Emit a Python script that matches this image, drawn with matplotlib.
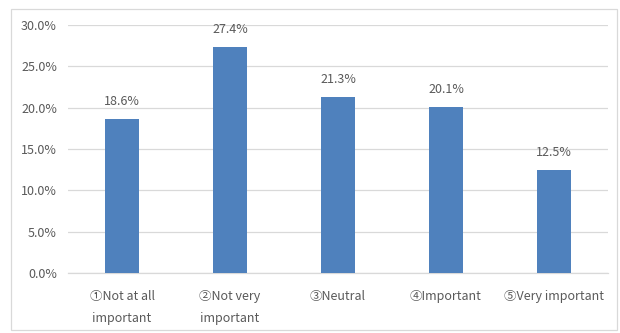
import matplotlib.pyplot as plt
from matplotlib.patches import Rectangle
from matplotlib.ticker import FuncFormatter

plt.rcParams['font.family'] = ['Noto Sans CJK KR', 'DejaVu Sans']

categories = ['①Not at all\nimportant', '②Not very\nimportant', '③Neutral',
              '④Important', '⑤Very important']
shares = [18.6, 27.4, 21.3, 20.1, 12.5]
y_ticks = [0, 5, 10, 15, 20, 25, 30]

bar_color = '#4F81BD'
text_color = '#595959'
grid_color = '#D9D9D9'

fig = plt.figure(figsize=(6.2, 3.33), dpi=100)
ax = fig.add_axes([0.1097, 0.1802, 0.8709, 0.7447])

x = list(range(len(categories)))
bars = ax.bar(x, shares, width=0.31, color=bar_color, zorder=3)
for b, v in zip(bars, shares):
    ax.text(b.get_x() + b.get_width() / 2, v + 1.3, f'{v:.1f}%',
            ha='center', va='bottom', fontsize=9, color=text_color)

ax.set_xlim(-0.5, len(categories) - 0.5)
ax.set_ylim(0, 30)
ax.set_yticks(y_ticks)
ax.yaxis.set_major_formatter(FuncFormatter(lambda v, _: f'{v:.1f}%'))
ax.set_xticks(x)
ax.set_xticklabels(categories, linespacing=1.9)
ax.tick_params(axis='both', length=0, labelsize=9, colors=text_color)
ax.tick_params(axis='x', pad=12)
ax.tick_params(axis='y', pad=8)
ax.grid(axis='y', color=grid_color, linewidth=0.9, zorder=0)
for s in ['top', 'right', 'left']:
    ax.spines[s].set_visible(False)
ax.spines['bottom'].set_color(grid_color)
ax.spines['bottom'].set_linewidth(0.9)

# outer chart frame
fig.patches.append(Rectangle((11 / 620, 3 / 333), 606 / 620, 321 / 333,
                             transform=fig.transFigure, fill=False,
                             edgecolor='#D9D9D9', linewidth=0.9))

fig.savefig('out.png', dpi=100)
